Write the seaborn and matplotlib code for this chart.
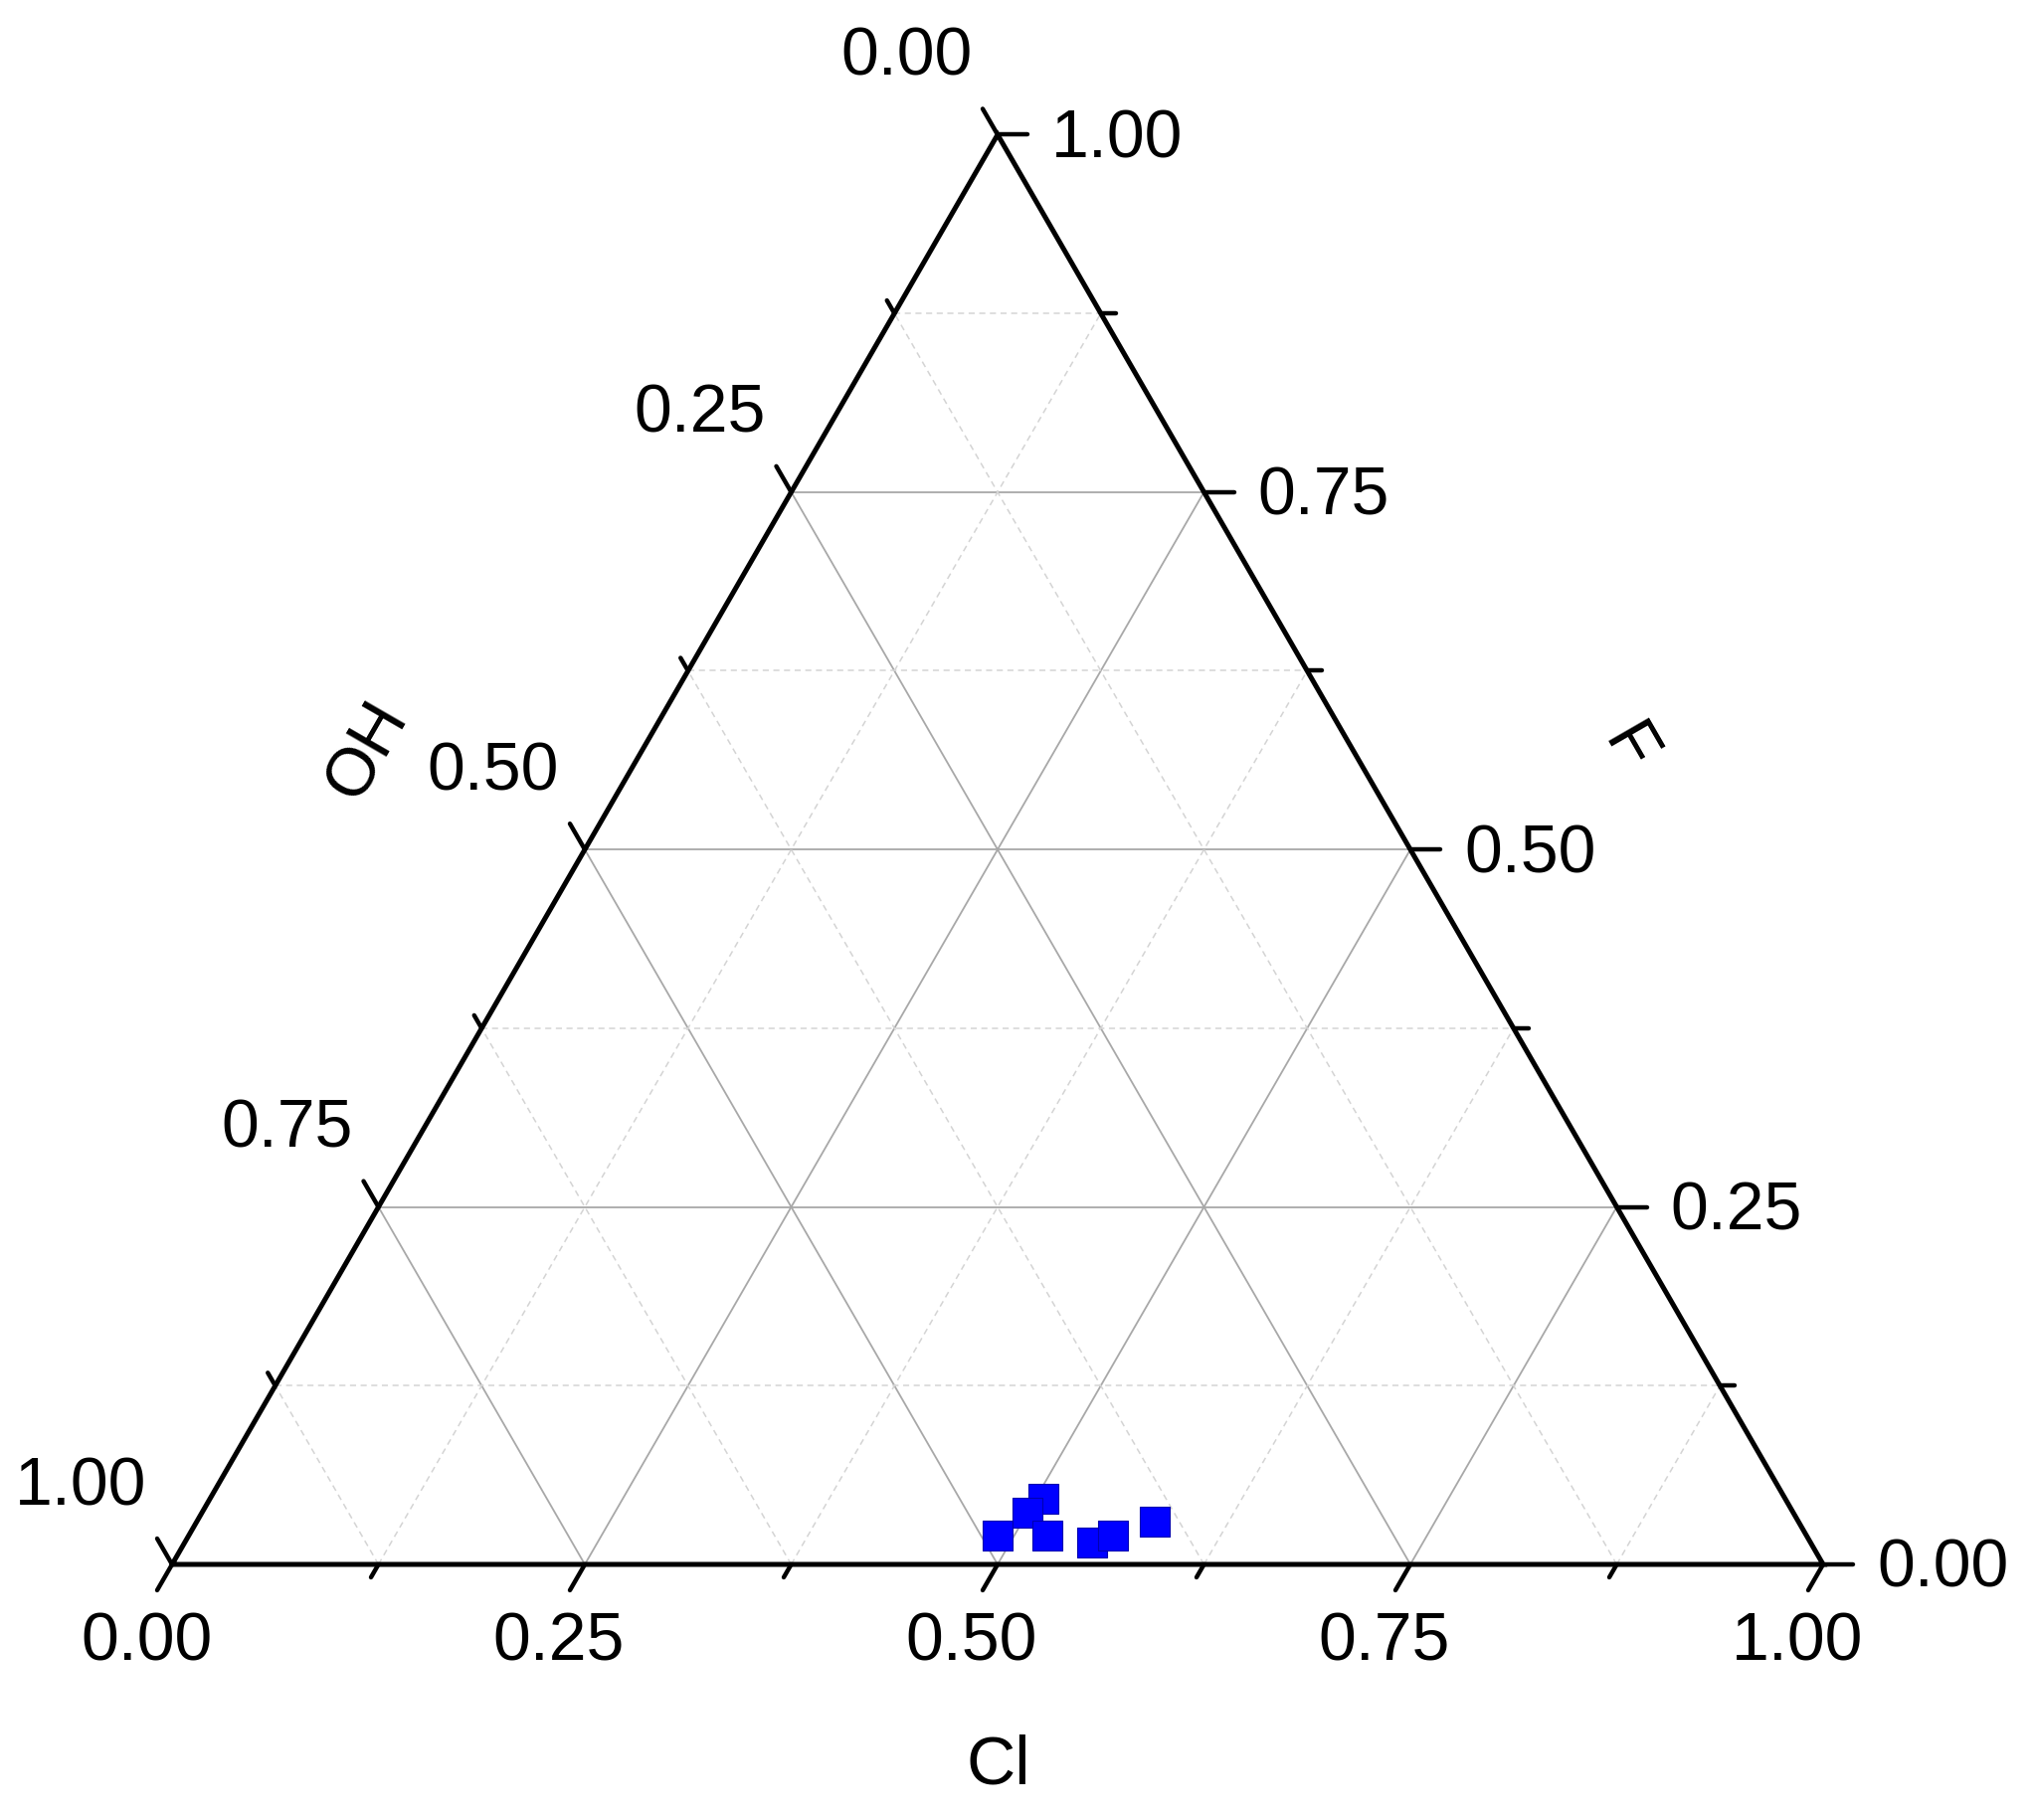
import numpy as np
import pandas as pd
import matplotlib
matplotlib.use("Agg")
import matplotlib.pyplot as plt
import seaborn as sns

# Ternary composition of the samples
cl = [0.490, 0.505, 0.500, 0.520, 0.550, 0.560, 0.580]
f = [0.020, 0.046, 0.036, 0.020, 0.015, 0.020, 0.030]
oh = [1 - a - b for a, b in zip(cl, f)]

major_ticks = [0.0, 0.25, 0.5, 0.75, 1.0]
minor_ticks = [0.125, 0.375, 0.625, 0.875]
tick_labels = ["0.00", "0.25", "0.50", "0.75", "1.00"]

H = np.sqrt(3) / 2


def to_xy(c, fl):
    # Cl along the base, F sets the height, OH is the rest
    c = np.asarray(c, dtype=float)
    fl = np.asarray(fl, dtype=float)
    return c + fl / 2, fl * H


df = pd.DataFrame({"Cl": cl, "F": f, "OH": oh})
df["x"], df["y"] = to_xy(df["Cl"], df["F"])

sns.set_style("white")
plt.rcParams["font.family"] = ["Liberation Sans", "DejaVu Sans"]
plt.rcParams["text.color"] = "black"

fig = plt.figure(figsize=(20.44, 18.30), dpi=100)
ax = fig.add_axes([0, 0, 1, 1])
scale = 1660.0
ax.set_xlim(-173 / scale, (2044 - 173) / scale)
ax.set_ylim(-(1830 - 1573) / scale, 1573 / scale)
ax.axis("off")

# grid lines
for vals, style in [(major_ticks[1:-1], dict(color="#a8a8a8", lw=1.3, ls="-")),
                    (minor_ticks, dict(color="#d4d4d4", lw=1.1, ls=(0, (4, 3))))]:
    for v in vals:
        # F constant
        ax.plot([v / 2, 1 - v / 2], [v * H, v * H], zorder=1, **style)
        # Cl constant
        ax.plot([v, v + (1 - v) / 2], [0, (1 - v) * H], zorder=1, **style)
        # OH constant
        ax.plot([1 - v, (1 - v) / 2], [0, (1 - v) * H], zorder=1, **style)

# triangle frame
ax.plot([0, 1, 0.5, 0], [0, 0, H, 0], color="black", lw=3.6, zorder=3,
        solid_joinstyle="miter")

major_len = 30 / scale
minor_len = 15 / scale
fs = 49
dy = 5 / scale  # small nudge down for digit labels

for t, lab in zip(major_ticks + minor_ticks, tick_labels + [None] * 4):
    ln = major_len if lab else minor_len
    # bottom axis (Cl)
    bx, by = t, 0.0
    ax.plot([bx, bx - 0.5 * ln], [by, by - H * ln], color="black", lw=3.2, zorder=3)
    # right axis (F)
    rx, ry = 1 - t / 2, t * H
    ax.plot([rx, rx + ln], [ry, ry], color="black", lw=3.2, zorder=3)
    # left axis (OH)
    lx, ly = (1 - t) / 2, (1 - t) * H
    ax.plot([lx, lx - 0.5 * ln], [ly, ly + H * ln], color="black", lw=3.2, zorder=3)
    if lab:
        ax.text(bx - 26 / scale, by - 74 / scale - dy, lab, fontsize=fs,
                ha="center", va="center")
        ax.text(rx + 54 / scale, ry - dy, lab, fontsize=fs, ha="left", va="center")
        ax.text(lx - 92 / scale, ly + 83 / scale - dy, lab, fontsize=fs,
                ha="center", va="center")

# axis titles
ax.text((1004 - 173) / scale, (1573 - 1776) / scale, "Cl", fontsize=fs,
        ha="center", va="center")
ax.text((369 - 173) / scale, (1573 - 755) / scale, "OH", fontsize=fs,
        ha="center", va="center", rotation=60, rotation_mode="anchor")
ax.text((1636 - 173) / scale, (1573 - 753) / scale, "F", fontsize=fs,
        ha="center", va="center", rotation=-60, rotation_mode="anchor")

sns.scatterplot(data=df, x="x", y="y", marker="s", s=480, color="#0000FF",
                edgecolor="#0000B0", linewidth=0.8, ax=ax, zorder=4, legend=False)
ax.axis("off")

fig.savefig("out.png", dpi=100, facecolor="white")
